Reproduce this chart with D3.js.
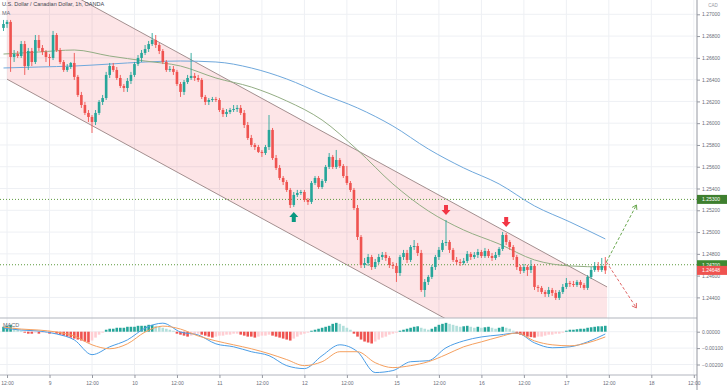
<!DOCTYPE html>
<html><head><meta charset="utf-8">
<script src="https://cdn.jsdelivr.net/npm/d3@7"></script>
<style>body{margin:0;background:#fff}svg{display:block}text{font-family:"Liberation Sans",Arial,sans-serif}</style>
</head><body><svg id="c" width="728" height="390"></svg>
<script>
// ---------- DATA ----------
const opens=[1.26875,1.26911,1.26930,1.26608,1.26635,1.26617,1.26727,1.26525,1.26663,1.26562,1.26764,1.26691,1.26654,1.26608,1.26599,1.26810,1.26672,1.26562,1.26489,1.26516,1.26553,1.26425,1.26259,1.26167,1.26094,1.26057,1.26011,1.26094,1.26195,1.26231,1.26443,1.26525,1.26489,1.26415,1.26342,1.26323,1.26388,1.26443,1.26543,1.26599,1.26645,1.26681,1.26727,1.26764,1.26718,1.26663,1.26562,1.26489,1.26498,1.26471,1.26360,1.26287,1.26378,1.26415,1.26434,1.26415,1.26397,1.26241,1.26195,1.26213,1.26222,1.26213,1.26121,1.26084,1.26103,1.26121,1.26130,1.26140,1.26094,1.25983,1.25864,1.25800,1.25781,1.25736,1.25726,1.25781,1.25938,1.25680,1.25589,1.25497,1.25460,1.25387,1.25249,1.25341,1.25359,1.25368,1.25295,1.25277,1.25451,1.25497,1.25414,1.25469,1.25598,1.25690,1.25598,1.25662,1.25607,1.25515,1.25451,1.25387,1.25221,1.24955,1.24698,1.24716,1.24771,1.24679,1.24725,1.24771,1.24790,1.24762,1.24698,1.24689,1.24624,1.24771,1.24808,1.24744,1.24863,1.24872,1.24808,1.24468,1.24542,1.24588,1.24679,1.24771,1.24836,1.24900,1.24909,1.24836,1.24744,1.24725,1.24716,1.24735,1.24799,1.24771,1.24790,1.24817,1.24780,1.24826,1.24780,1.24762,1.24790,1.24845,1.24973,1.24909,1.24863,1.24771,1.24679,1.24643,1.24679,1.24652,1.24689,1.24496,1.24487,1.24450,1.24431,1.24468,1.24441,1.24395,1.24450,1.24496,1.24532,1.24523,1.24514,1.24542,1.24514,1.24487,1.24588,1.24652,1.24689,1.24652,1.24689];
const highs=[1.26948,1.26948,1.26948,1.26672,1.26663,1.26755,1.26755,1.26691,1.26691,1.26810,1.26810,1.26718,1.26672,1.26635,1.26847,1.26828,1.26691,1.26580,1.26543,1.26562,1.26645,1.26443,1.26287,1.26195,1.26121,1.26075,1.26121,1.26213,1.26259,1.26471,1.26553,1.26553,1.26516,1.26443,1.26360,1.26415,1.26471,1.26562,1.26626,1.26672,1.26718,1.26755,1.26828,1.26810,1.26736,1.26681,1.26580,1.26525,1.26525,1.26489,1.26378,1.26397,1.26443,1.26645,1.26461,1.26443,1.26415,1.26259,1.26231,1.26241,1.26241,1.26231,1.26140,1.26130,1.26140,1.26167,1.26167,1.26167,1.26121,1.26011,1.25892,1.25818,1.25800,1.25754,1.25800,1.26075,1.25956,1.25708,1.25616,1.25515,1.25478,1.25405,1.25368,1.25387,1.25387,1.25387,1.25313,1.25469,1.25515,1.25515,1.25487,1.25616,1.25726,1.25708,1.25754,1.25680,1.25625,1.25607,1.25469,1.25405,1.25249,1.24973,1.24762,1.24799,1.24790,1.24753,1.24799,1.24817,1.24817,1.24780,1.24725,1.24716,1.24790,1.24836,1.24836,1.24881,1.24927,1.24900,1.24836,1.24569,1.24606,1.24698,1.24790,1.24863,1.24927,1.25111,1.24927,1.24854,1.24771,1.24753,1.24762,1.24826,1.24817,1.24817,1.24845,1.24836,1.24854,1.24845,1.24808,1.24817,1.24863,1.25001,1.24992,1.24927,1.24881,1.24790,1.24698,1.24707,1.24698,1.24744,1.24707,1.24514,1.24505,1.24468,1.24496,1.24487,1.24468,1.24468,1.24523,1.24578,1.24551,1.24551,1.24560,1.24560,1.24532,1.24606,1.24679,1.24725,1.24725,1.24762,1.24771];
const lows=[1.26847,1.26875,1.26471,1.26562,1.26599,1.26599,1.26443,1.26489,1.26525,1.26543,1.26663,1.26626,1.26562,1.26525,1.26580,1.26654,1.26543,1.26471,1.26471,1.26498,1.26397,1.26241,1.26140,1.26075,1.26011,1.25910,1.25983,1.26075,1.26167,1.26213,1.26415,1.26471,1.26397,1.26323,1.26287,1.26287,1.26360,1.26425,1.26525,1.26562,1.26626,1.26654,1.26709,1.26691,1.26635,1.26543,1.26471,1.26471,1.26443,1.26342,1.26241,1.26259,1.26360,1.26397,1.26388,1.26378,1.26222,1.26167,1.26167,1.26195,1.26195,1.26103,1.26057,1.26057,1.26084,1.26103,1.26103,1.26075,1.25956,1.25846,1.25781,1.25754,1.25726,1.25690,1.25708,1.25754,1.25662,1.25570,1.25478,1.25432,1.25368,1.25221,1.25231,1.25322,1.25341,1.25277,1.25249,1.25258,1.25432,1.25396,1.25396,1.25451,1.25579,1.25579,1.25579,1.25589,1.25497,1.25432,1.25368,1.25203,1.24927,1.24670,1.24670,1.24689,1.24652,1.24661,1.24707,1.24744,1.24735,1.24670,1.24661,1.24542,1.24597,1.24744,1.24716,1.24725,1.24836,1.24780,1.24450,1.24404,1.24514,1.24569,1.24652,1.24744,1.24817,1.24872,1.24808,1.24725,1.24698,1.24689,1.24698,1.24716,1.24744,1.24753,1.24762,1.24762,1.24762,1.24762,1.24735,1.24744,1.24771,1.24826,1.24881,1.24836,1.24744,1.24652,1.24615,1.24624,1.24597,1.24624,1.24468,1.24450,1.24431,1.24404,1.24404,1.24413,1.24376,1.24376,1.24431,1.24477,1.24496,1.24496,1.24496,1.24487,1.24468,1.24468,1.24569,1.24634,1.24634,1.24634,1.24615];
const closes=[1.26911,1.26930,1.26608,1.26635,1.26617,1.26727,1.26525,1.26663,1.26562,1.26764,1.26691,1.26654,1.26608,1.26599,1.26810,1.26672,1.26562,1.26489,1.26516,1.26553,1.26425,1.26259,1.26167,1.26094,1.26057,1.26011,1.26094,1.26195,1.26231,1.26443,1.26525,1.26489,1.26415,1.26342,1.26323,1.26388,1.26443,1.26543,1.26599,1.26645,1.26681,1.26727,1.26764,1.26718,1.26663,1.26562,1.26489,1.26498,1.26471,1.26360,1.26287,1.26378,1.26415,1.26434,1.26415,1.26397,1.26241,1.26195,1.26213,1.26222,1.26213,1.26121,1.26084,1.26103,1.26121,1.26130,1.26140,1.26094,1.25983,1.25864,1.25800,1.25781,1.25736,1.25726,1.25781,1.25938,1.25680,1.25589,1.25497,1.25460,1.25387,1.25249,1.25341,1.25359,1.25368,1.25295,1.25277,1.25451,1.25497,1.25414,1.25469,1.25598,1.25690,1.25598,1.25662,1.25607,1.25515,1.25451,1.25387,1.25221,1.24955,1.24698,1.24716,1.24771,1.24679,1.24725,1.24771,1.24790,1.24762,1.24698,1.24689,1.24624,1.24771,1.24808,1.24744,1.24863,1.24872,1.24808,1.24468,1.24542,1.24588,1.24679,1.24771,1.24836,1.24900,1.24909,1.24836,1.24744,1.24725,1.24716,1.24735,1.24799,1.24771,1.24790,1.24817,1.24780,1.24826,1.24780,1.24762,1.24790,1.24845,1.24973,1.24909,1.24863,1.24771,1.24679,1.24643,1.24679,1.24652,1.24689,1.24496,1.24487,1.24450,1.24431,1.24468,1.24441,1.24395,1.24450,1.24496,1.24532,1.24523,1.24514,1.24542,1.24514,1.24487,1.24588,1.24652,1.24689,1.24652,1.24689,1.24648];

const timeLabels=["12:00","9","12:00","10","12:00","11","12:00","12","12:00","15","12:00","16","12:00","17","12:00","18","12:00"];
const timeTickIndex=[1,13,25,37,49,61,73,85,97,111,123,135,147,159,171,183,195];
const priceTicks=[1.270,1.268,1.266,1.264,1.262,1.260,1.258,1.256,1.254,1.252,1.250,1.248,1.246,1.244];
const macdTicks=[0,-0.001,-0.002];

const maIndex=[0,10,20,30,40,50,60,70,80,90,100,110,120,130,140,150,160,170];
const maBlue=[1.26507,1.26516,1.26525,1.26543,1.26562,1.26571,1.26562,1.26507,1.26406,1.26268,1.26140,1.25974,1.25763,1.25589,1.25442,1.25240,1.25093,1.24937];
const maOlive=[1.26635,1.26654,1.26672,1.26617,1.26571,1.26525,1.26415,1.26332,1.26204,1.26029,1.25754,1.25442,1.25194,1.25019,1.24891,1.24744,1.24689,1.24679];

const macdIndex=[0,5,10,15,20,25,30,35,40,45,50,55,60,65,70,75,80,85,90,95,100,105,110,115,120,125,130,135,140,145,150,155,160,165,170];
const macdLine=[0.00022,0.00010,0.00004,-0.00014,-0.00050,-0.00140,-0.00092,-0.00050,0.00022,0.00052,-0.00002,-0.00020,-0.00074,-0.00092,-0.00122,-0.00146,-0.00207,-0.00225,-0.00146,-0.00080,-0.00122,-0.00249,-0.00237,-0.00183,-0.00177,-0.00098,-0.00056,-0.00032,-0.00020,-0.00008,-0.00068,-0.00098,-0.00092,-0.00062,-0.00014];
const signalLine=[0.00028,0.00016,0.00010,-0.00002,-0.00026,-0.00080,-0.00104,-0.00074,-0.00002,0.00034,0.00016,-0.00026,-0.00056,-0.00080,-0.00104,-0.00134,-0.00170,-0.00207,-0.00183,-0.00122,-0.00122,-0.00189,-0.00219,-0.00207,-0.00183,-0.00140,-0.00092,-0.00062,-0.00032,-0.00008,-0.00056,-0.00080,-0.00086,-0.00068,-0.00032];
const histogram=[0.00030,0.00036,0.00042,0.00024,0.00012,0.00006,-0.00006,-0.00012,-0.00012,-0.00006,-0.00012,-0.00006,-0.00006,-0.00012,-0.00006,
-0.00012,-0.00018,-0.00024,-0.00030,-0.00036,-0.00042,-0.00048,-0.00054,-0.00060,-0.00066,
-0.00054,-0.00036,-0.00018,-0.00006,
0.00012,0.00018,0.00018,0.00024,0.00024,0.00024,0.00030,0.00030,0.00030,0.00036,0.00036,0.00036,0.00042,0.00042,
0.00036,0.00030,0.00024,0.00018,0.00012,0.00006,
-0.00012,-0.00018,-0.00024,-0.00030,
-0.00024,-0.00018,-0.00012,
-0.00018,-0.00024,-0.00030,-0.00036,
-0.00030,-0.00024,-0.00024,-0.00018,-0.00018,-0.00012,-0.00012,
-0.00018,-0.00024,-0.00030,-0.00030,-0.00036,
-0.00030,-0.00024,-0.00024,-0.00018,
-0.00024,-0.00030,-0.00036,-0.00042,-0.00048,-0.00054,
-0.00042,-0.00030,-0.00018,-0.00012,-0.00006,
0.00006,0.00012,0.00018,0.00024,0.00030,0.00036,0.00048,0.00054,
0.00048,0.00036,0.00024,0.00012,
-0.00012,-0.00030,-0.00048,-0.00060,-0.00066,-0.00072,
-0.00060,-0.00048,-0.00036,-0.00030,-0.00018,-0.00012,-0.00006,
0.00006,0.00012,0.00018,0.00024,0.00030,0.00033,
0.00024,0.00018,0.00012,
0.00018,0.00030,0.00042,0.00048,0.00054,
0.00048,0.00042,0.00036,0.00030,0.00033,0.00036,0.00030,0.00024,0.00030,0.00024,0.00027,0.00030,0.00024,0.00018,0.00024,
0.00030,0.00024,0.00018,0.00006,
-0.00012,-0.00018,-0.00024,-0.00030,-0.00033,-0.00036,
-0.00030,-0.00030,-0.00024,-0.00018,-0.00018,-0.00012,-0.00012,-0.00006,
0.00006,0.00012,0.00012,0.00015,0.00018,0.00018,
0.00024,0.00027,0.00030,0.00033,0.00033,0.00036];

const levelPrices=[1.25300,1.24700];
const lastPrice=1.24648;
const channelIndex=[1,170.5];
const channelUpper=[1.27506,1.24496];
const channelLower=[1.26404,1.23394];
const upArrows=[{i:82,p:1.25184}];
const downArrows=[{i:125,p:1.25157},{i:142,p:1.25047}];
const projStart={i:170.3,p:1.24725};
const projUp={i:178.8,p:1.25249};
const projDown={i:178.8,p:1.24303};

// ---------- LAYOUT ----------
const W=728,H=390,R=697,mainBottom=318,macdBottom=375;
const svg=d3.select("#c");
const x=d3.scaleLinear().domain([0,195]).range([3.5,693.8]);
const y=d3.scaleLinear().domain([1.244,1.270]).range([297.4,14.3]);
const ym=d3.scaleLinear().domain([-0.002,0]).range([364.5,331.7]);
const UP="#26a69a",DN="#ef5350",GRID="#eef0f4",AX="#9598a1",TXT="#6a6d78";

const defs=svg.append("defs");
defs.append("clipPath").attr("id","cm").append("rect").attr("x",0).attr("y",0).attr("width",R).attr("height",mainBottom);
defs.append("clipPath").attr("id","cd").append("rect").attr("x",0).attr("y",mainBottom).attr("width",R).attr("height",macdBottom-mainBottom);

// grid
const g=svg.append("g");
g.selectAll(".vg").data(timeTickIndex).enter().append("line")
 .attr("x1",d=>x(d)).attr("x2",d=>x(d)).attr("y1",0).attr("y2",macdBottom).attr("stroke",GRID).attr("stroke-width",1);
g.selectAll(".hg").data(priceTicks).enter().append("line")
 .attr("x1",0).attr("x2",R).attr("y1",d=>y(d)).attr("y2",d=>y(d)).attr("stroke",GRID);
g.selectAll(".mg").data(macdTicks).enter().append("line")
 .attr("x1",0).attr("x2",R).attr("y1",d=>ym(d)).attr("y2",d=>ym(d)).attr("stroke",GRID);

const main=svg.append("g").attr("clip-path","url(#cm)");
// channel
const chPoly=[[x(channelIndex[0]),y(channelUpper[0])],[x(channelIndex[1]),y(channelUpper[1])],[x(channelIndex[1]),y(channelLower[1])],[x(channelIndex[0]),y(channelLower[0])]];
main.append("path").attr("d","M"+chPoly.map(p=>p.join(",")).join("L")+"Z").attr("fill","rgba(242,54,69,0.13)");
[channelUpper,channelLower].forEach(c=>{
  main.append("line").attr("x1",x(channelIndex[0])).attr("y1",y(c[0])).attr("x2",x(channelIndex[1])).attr("y2",y(c[1]))
   .attr("stroke","#a38f8f").attr("stroke-width",1);
});
// level lines
main.selectAll(".lv").data(levelPrices).enter().append("line")
 .attr("x1",0).attr("x2",R).attr("y1",d=>y(d)).attr("y2",d=>y(d))
 .attr("stroke","#5d9b3e").attr("stroke-width",1).attr("stroke-dasharray","1,2");
// MAs
const maLine=arr=>d3.line().x((d,k)=>x(maIndex[k])).y(d=>y(d)).curve(d3.curveMonotoneX)(arr);
main.append("path").attr("d",maLine(maBlue)).attr("fill","none").attr("stroke","#6fa8dc").attr("stroke-width",1);
main.append("path").attr("d",maLine(maOlive)).attr("fill","none").attr("stroke","#93ad84").attr("stroke-width",1);
// candles
const cd=closes.map((c,i)=>({i,o:opens[i],h:highs[i],l:lows[i],c}));
const cg=main.append("g");
cg.selectAll(".w").data(cd).enter().append("line")
 .attr("x1",d=>x(d.i)).attr("x2",d=>x(d.i)).attr("y1",d=>y(d.h)).attr("y2",d=>y(d.l))
 .attr("stroke",d=>d.c>=d.o?UP:DN).attr("stroke-width",0.9);
cg.selectAll(".b").data(cd).enter().append("rect")
 .attr("x",d=>x(d.i)-1.3).attr("width",2.6)
 .attr("y",d=>y(Math.max(d.o,d.c))).attr("height",d=>Math.max(0.8,Math.abs(y(d.o)-y(d.c))))
 .attr("fill",d=>d.c>=d.o?UP:DN);
// arrows
upArrows.forEach(a=>{const cx=x(a.i),t=y(a.p);
  main.append("path").attr("d",`M${cx},${t}L${cx+4.5},${t+5}L${cx+2},${t+5}L${cx+2},${t+10}L${cx-2},${t+10}L${cx-2},${t+5}L${cx-4.5},${t+5}Z`).attr("fill","#089981");});
downArrows.forEach(a=>{const cx=x(a.i),t=y(a.p);
  main.append("path").attr("d",`M${cx},${t}L${cx+4.5},${t-5}L${cx+2},${t-5}L${cx+2},${t-10}L${cx-2},${t-10}L${cx-2},${t-5}L${cx-4.5},${t-5}Z`).attr("fill","#f23645");});
// projections
[[projUp,"#6aa84f"],[projDown,"#e06666"]].forEach(([e,col])=>{
  const x1=x(projStart.i),y1=y(projStart.p),x2=x(e.i),y2=y(e.p);
  main.append("line").attr("x1",x1).attr("y1",y1).attr("x2",x2).attr("y2",y2).attr("stroke",col).attr("stroke-width",1).attr("stroke-dasharray","3,2");
  const ang=Math.atan2(y2-y1,x2-x1);
  [ang+Math.PI*0.82,ang-Math.PI*0.82].forEach(a=>{
    main.append("line").attr("x1",x2).attr("y1",y2).attr("x2",x2+5*Math.cos(a)).attr("y2",y2+5*Math.sin(a)).attr("stroke",col).attr("stroke-width",1);
  });
});

// MACD panel
const mp=svg.append("g").attr("clip-path","url(#cd)");
let prevRise=true;
const hd=histogram.map((v,i)=>{const p=i>0?histogram[i-1]:v;let rise=i===0?true:(v>p?true:(v<p?false:prevRise));prevRise=rise;
  let col=v>=0?(rise?"#26a69a":"#b2dfdb"):(rise?"#ffcdd2":"#ef5350");return {i,v,col};});
mp.selectAll(".hb").data(hd).enter().append("rect")
 .attr("x",d=>x(d.i)-1.3).attr("width",2.6)
 .attr("y",d=>Math.min(ym(d.v),ym(0))).attr("height",d=>Math.abs(ym(d.v)-ym(0)))
 .attr("fill",d=>d.col);
const ml=arr=>d3.line().x((d,k)=>x(macdIndex[k])).y(d=>ym(d)).curve(d3.curveMonotoneX)(arr);
mp.append("path").attr("d",ml(macdLine)).attr("fill","none").attr("stroke","#4a9de6").attr("stroke-width",1);
mp.append("path").attr("d",ml(signalLine)).attr("fill","none").attr("stroke","#f5a05f").attr("stroke-width",1);

// axes lines
svg.append("line").attr("x1",0).attr("x2",R).attr("y1",mainBottom).attr("y2",mainBottom).attr("stroke","#b2b5be").attr("stroke-width",1.2);
svg.append("line").attr("x1",0).attr("x2",R).attr("y1",macdBottom).attr("y2",macdBottom).attr("stroke","#b2b5be");
svg.append("line").attr("x1",R).attr("x2",R).attr("y1",0).attr("y2",H).attr("stroke",AX);

// price axis
const pa=svg.append("g").attr("transform",`translate(${R},0)`)
 .call(d3.axisRight(y).tickValues(priceTicks).tickSize(3).tickFormat(d3.format(".5f")));
pa.select(".domain").remove();
pa.selectAll("line").attr("stroke",AX);
pa.selectAll("text").attr("fill",TXT).attr("font-size",5).attr("x",5);
const ma=svg.append("g").attr("transform",`translate(${R},0)`)
 .call(d3.axisRight(ym).tickValues(macdTicks).tickSize(3).tickFormat(d3.format(".5f")));
ma.select(".domain").remove();
ma.selectAll("line").attr("stroke",AX);
ma.selectAll("text").attr("fill",TXT).attr("font-size",5).attr("x",5);
svg.append("text").attr("x",713).attr("y",7).attr("font-size",4.5).attr("fill","#9598a1").attr("text-anchor","middle").text("CAD");

// time axis
const ta=svg.append("g").attr("transform",`translate(0,${macdBottom})`)
 .call(d3.axisBottom(x).tickValues(timeTickIndex).tickSize(3).tickFormat((d,k)=>timeLabels[k]));
ta.select(".domain").remove();
ta.selectAll("line").attr("stroke",AX);
ta.selectAll("text").attr("fill",TXT).attr("font-size",5).attr("y",6);

// price labels
const lab=(p,bg)=>{const yy=y(p);
  svg.append("rect").attr("x",R).attr("y",yy-4.5).attr("width",30).attr("height",9).attr("fill",bg);
  svg.append("text").attr("x",R+5).attr("y",yy+1.8).attr("font-size",5).attr("fill","#fff").text(d3.format(".5f")(p));};
lab(levelPrices[0],"#3e7f2f");
lab(levelPrices[1],"#3e8a32");
lab(lastPrice,"#ef5350");

// titles
svg.append("text").attr("x",2).attr("y",6).attr("font-size",5.5).attr("fill","#434651").text("U.S. Dollar / Canadian Dollar, 1h, OANDA");
svg.append("text").attr("x",2).attr("y",15).attr("font-size",5.5).attr("fill","#6a6d78").text("MA");
svg.append("text").attr("x",3).attr("y",327).attr("font-size",5.5).attr("fill","#6a6d78").text("MACD");
</script></body></html>
